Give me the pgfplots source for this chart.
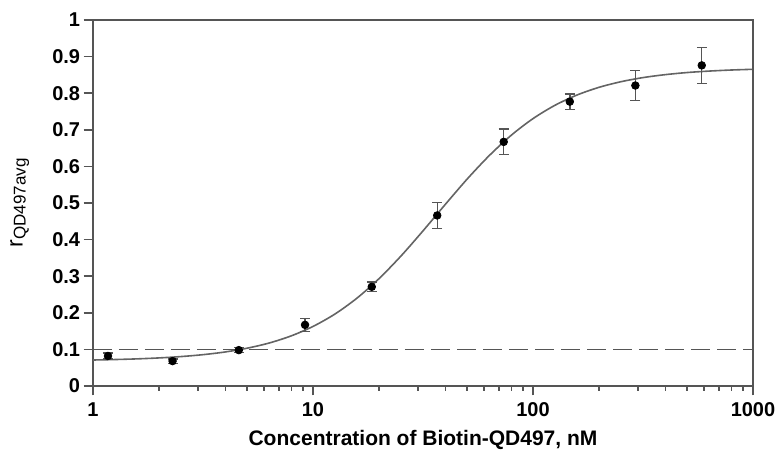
\documentclass[border=0pt]{standalone}
\usepackage{fontspec}
\setmainfont{Liberation Sans}
\usepackage{pgfplots}
\pgfplotsset{compat=1.18}
\definecolor{axisgray}{RGB}{85,85,85}
\definecolor{curvegray}{RGB}{100,100,100}

\pgfplotstableread{
x y e
1.17 0.082 0.008
2.3 0.068 0.006
4.6 0.098 0.007
9.2 0.167 0.018
18.5 0.271 0.013
36.7 0.466 0.035
73.6 0.667 0.035
147 0.777 0.021
292 0.821 0.041
585 0.876 0.049
}\measured

\begin{document}
\begin{tikzpicture}
\begin{axis}[
    xmode=log,
    scale only axis,
    width=330pt, height=183pt,
    xmin=1, xmax=1000, ymin=0, ymax=1,
    xtick={1,10,100,1000},
    xticklabels={1,10,100,1000},
    ytick={0,0.1,0.2,0.3,0.4,0.5,0.6,0.7,0.8,0.9,1},
    yticklabels={0,0.1,0.2,0.3,0.4,0.5,0.6,0.7,0.8,0.9,1},
    tick align=outside,
    xtick pos=bottom, ytick pos=left,
    major tick length=4.75pt, minor tick length=2.5pt,
    axis line style={axisgray, line width=0.9pt},
    every tick/.style={axisgray, line width=0.8pt},
    tick label style={font=\fontsize{10}{12}\selectfont\bfseries},
    yticklabel style={inner xsep=1.5pt},
    xticklabel style={inner xsep=0pt},
    xlabel={Concentration of Biotin-QD497, nM},
    xlabel style={font=\fontsize{10.5}{12}\selectfont\bfseries,
        at={(axis description cs:0.5,-0.162)}, anchor=base},
    ylabel={{\fontsize{11.5}{13}\selectfont r}\raisebox{-1.5pt}{\fontsize{8.5}{10}\selectfont QD497avg}},
    ylabel style={at={(axis description cs:-0.111,0.5)}, anchor=center},
    clip=false,
]
% fitted curve
\addplot[curvegray, line width=0.8pt, smooth] coordinates {
    (1,0.0710) (1.2589,0.0723) (1.5849,0.0741) (1.9953,0.0767)
    (2.5119,0.0804) (3.1623,0.0856) (3.9811,0.0929) (5.0119,0.1032)
    (6.3096,0.1173) (7.9433,0.1367) (10,0.1627) (12.589,0.1967)
    (15.849,0.2401) (19.953,0.2932) (25.119,0.3552) (31.623,0.4238)
    (39.811,0.4951) (50.119,0.5649) (63.096,0.6288) (79.433,0.6845)
    (100,0.7305) (125.89,0.7670) (158.49,0.7950) (199.53,0.8160)
    (251.19,0.8314) (316.23,0.8426) (398.11,0.8506) (501.19,0.8564)
    (630.96,0.8604) (794.33,0.8633) (1000,0.8653)
};
% threshold
\addplot[axisgray, line width=0.75pt, dash pattern=on 9.5pt off 3.5pt]
    coordinates {(1,0.1) (1000,0.1)};
% measured points
\addplot[only marks, mark=*, black, mark size=1.9pt,
    error bars/.cd, y dir=both, y explicit,
    error bar style={axisgray, line width=0.7pt},
    error mark options={rotate=90, mark size=2.5pt, axisgray, line width=0.7pt}]
    table[x=x, y=y, y error=e] {\measured};
\end{axis}
% frame on top and right
\draw[axisgray, line width=0.9pt] (current axis.north west) -- (current axis.north east) -- (current axis.south east);
\path (current axis.south west) ++(-46.5pt,-31.5pt) rectangle ++(388.5pt,224.5pt);
\end{tikzpicture}
\end{document}
